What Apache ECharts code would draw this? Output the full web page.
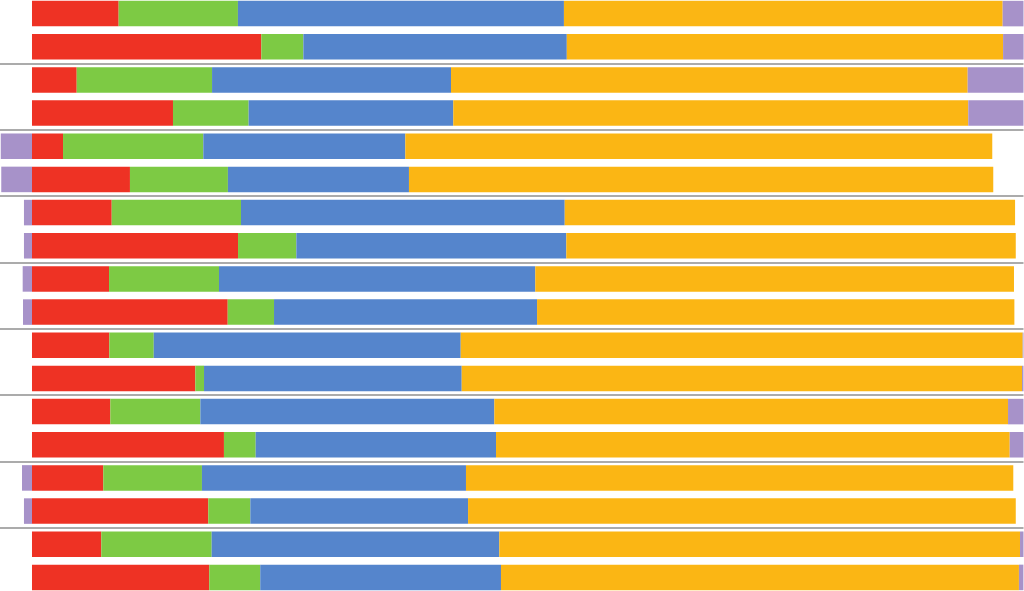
<!DOCTYPE html>
<html>
<head>
<meta charset="utf-8">
<script src="https://cdn.jsdelivr.net/npm/echarts@6/dist/echarts.min.js"></script>
<style>
html,body{margin:0;padding:0;background:#fff;overflow:hidden;width:1024px;height:591px;position:relative;}
#chart{position:absolute;left:0;top:-3px;width:1024px;height:597px;}
</style>
</head>
<body>
<div id="chart"></div>
<script>
const categories = ['1','2','3','4','5','6','7','8','9','10','11','12','13','14','15','16','17','18'];
const seriesNames = ['A','B','C','D','E'];
const red    = [8.74, 23.13, 4.51, 14.22, 3.13, 9.88, 8.04, 20.78, 7.77, 19.74, 7.80, 16.47, 7.90, 19.36, 7.19, 17.78, 6.99, 17.88];
const green  = [12.03, 4.24, 13.65, 7.63, 14.15, 9.88, 13.04, 5.88, 11.09, 4.67, 4.48, 0.88, 9.08, 3.20, 9.95, 4.24, 11.13, 5.14];
const blue   = [32.88, 26.57, 24.10, 20.64, 20.37, 18.26, 32.65, 27.23, 31.90, 26.53, 30.96, 25.99, 29.65, 24.24, 26.63, 21.96, 29.01, 24.28];
const yellow = [44.25, 44.00, 52.11, 51.94, 59.20, 58.93, 45.42, 45.33, 48.28, 48.14, 56.68, 56.51, 51.81, 51.81, 55.20, 55.24, 52.52, 52.24];
const purple = [2.10, 2.07, 5.63, 5.57, -3.15, -3.10, -0.81, -0.81, -0.94, -0.91, 0.08, 0.15, 1.56, 1.39, -1.01, -0.81, 0.35, 0.45];
const colors = ['#EE3224', '#7DCA44', '#5585CC', '#FBB614', '#A792C9'];

const seriesData = [red, green, blue, yellow, purple];
const chart = echarts.init(document.getElementById('chart'));
chart.setOption({
  animation: false,
  grid: {left: 0, right: 0.5, top: 0, bottom: 0, containLabel: false},
  xAxis: {
    type: 'value', min: -3.227, max: 100,
    axisLine: {show: false}, axisTick: {show: false}, axisLabel: {show: false}, splitLine: {show: false}
  },
  yAxis: {
    type: 'category', data: categories, inverse: true,
    axisLine: {show: false}, axisTick: {show: false}, axisLabel: {show: false},
    splitLine: {show: true, interval: function (i) { return i % 2 === 0; }, lineStyle: {color: '#ababab', width: 2}}
  },
  series: seriesData.map((d, i) => ({
    name: seriesNames[i], type: 'bar', stack: 'total', data: d,
    barCategoryGap: '23%', itemStyle: {color: colors[i]}, clip: false
  }))
});
</script>
</body>
</html>
